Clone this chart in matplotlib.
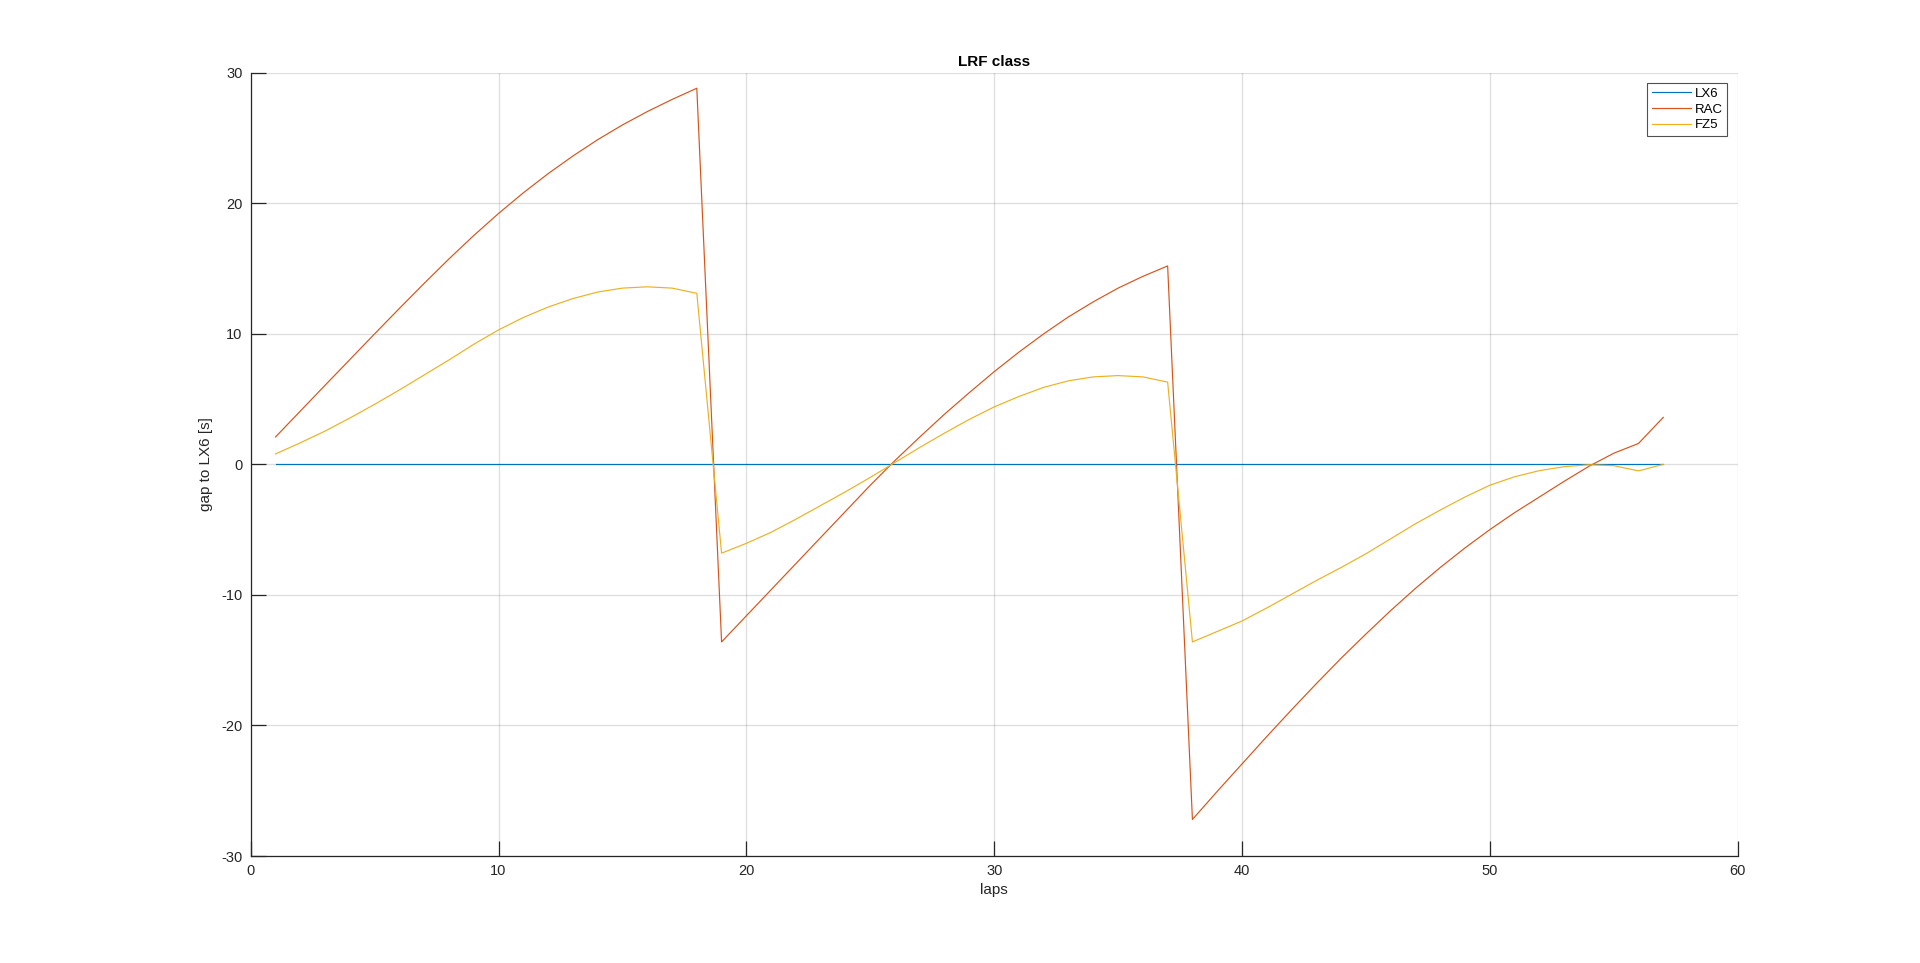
import matplotlib
matplotlib.use("Agg")
import matplotlib.pyplot as plt

laps = list(range(1, 58))

lx6 = [0.0] * 57

rac = [2.1, 4.08, 6.06, 8.03, 10.0, 11.95, 13.87, 15.74, 17.53, 19.22,
       20.8, 22.27, 23.62, 24.87, 26.0, 27.02, 27.95, 28.81,
       -13.6, -11.6, -9.6, -7.6, -5.6, -3.6, -1.6, 0.3, 2.1, 3.85,
       5.5, 7.1, 8.6, 10.0, 11.3, 12.45, 13.5, 14.4, 15.2,
       -27.2, -25.05, -22.95, -20.85, -18.8, -16.8, -14.85, -13.0, -11.2,
       -9.5, -7.9, -6.4, -5.0, -3.7, -2.5, -1.3, -0.15, 0.85, 1.6, 3.6]

fz5 = [0.8, 1.65, 2.55, 3.55, 4.6, 5.7, 6.85, 8.0, 9.2, 10.3,
       11.25, 12.05, 12.7, 13.2, 13.5, 13.6, 13.5, 13.1,
       -6.8, -6.05, -5.2, -4.2, -3.15, -2.1, -1.0, 0.15, 1.3, 2.4,
       3.45, 4.4, 5.2, 5.9, 6.4, 6.7, 6.8, 6.7, 6.3,
       -13.6, -12.8, -12.0, -11.0, -9.95, -8.9, -7.9, -6.85, -5.7,
       -4.55, -3.5, -2.5, -1.6, -0.95, -0.48, -0.18, -0.03, -0.1, -0.5, 0.0]

series_names = ["LX6", "RAC", "FZ5"]
series_colors = ["#0072BD", "#D95319", "#EDB120"]

plt.rcParams['font.family'] = ['Liberation Sans', 'DejaVu Sans']
plt.rcParams['axes.unicode_minus'] = False

fig = plt.figure(figsize=(19.2, 9.63), dpi=100)
ax = fig.add_axes([0.1306, 0.1111, 0.7744, 0.8134])

for vals, name, col in zip([lx6, rac, fz5], series_names, series_colors):
    ax.plot(laps, vals, color=col, linewidth=0.85, label=name)

ax.set_xlim(0, 60)
ax.set_ylim(-30, 30)
ax.set_xticks(range(0, 61, 10))
ax.set_yticks(range(-30, 31, 10))

axcol = "#262626"
ax.grid(True, color="#262626", alpha=0.15, linewidth=0.9)
ax.set_axisbelow(True)
for s in ["top", "right"]:
    ax.spines[s].set_visible(False)
for s in ["left", "bottom"]:
    ax.spines[s].set_color(axcol)
    ax.spines[s].set_linewidth(0.9)
ax.tick_params(direction="in", length=10.5, width=0.9, color=axcol,
               labelcolor=axcol, labelsize=10.5, pad=6)

ax.set_xlabel("laps", fontsize=11, color=axcol, labelpad=3)
ax.set_ylabel("gap to LX6 [s]", fontsize=11, color=axcol, labelpad=6)
ax.set_title("LRF class", fontsize=11, fontweight="bold", color="black", pad=5)

leg = ax.legend(loc="upper right", fontsize=9.5, frameon=True, fancybox=False,
                edgecolor=axcol, borderaxespad=0.8, handlelength=3.0,
                handletextpad=0.25, labelspacing=0.25, borderpad=0.35)
leg.get_frame().set_linewidth(0.8)

fig.savefig("out.png", dpi=100, facecolor="white")
